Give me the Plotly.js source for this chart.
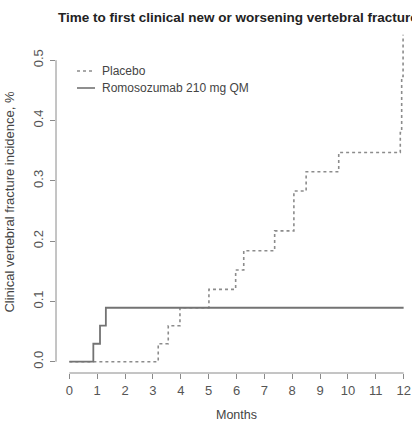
<!DOCTYPE html>
<html>
<head>
<meta charset="utf-8">
<script src="https://cdn.plot.ly/plotly-3.0.1.min.js"></script>
<style>
html, body { margin: 0; padding: 0; overflow: hidden; background: #fff; width: 412px; height: 422px; }
#chart { width: 430px; height: 422px; }
</style>
</head>
<body>
<div id="chart"></div>
<script>
// ---- data ----
const chartTitle = "Time to first clinical new or worsening vertebral fracture";
const xAxisTitle = "Months";
const yAxisTitle = "Clinical vertebral fracture incidence, %";
const seriesNames = ["Placebo", "Romosozumab 210 mg QM"];

const placeboMonths = [0, 3.19, 3.55, 3.97, 5.01, 5.97, 6.26, 7.37, 8.06, 8.50, 9.67, 11.88, 11.93, 11.98];
const placeboIncidence = [0, 0.0298, 0.0597, 0.0895, 0.120, 0.152, 0.184, 0.217, 0.283, 0.315, 0.347, 0.380, 0.473, 0.542];

const romoMonths = [0, 0.86, 1.10, 1.31, 12];
const romoIncidence = [0, 0.0298, 0.0597, 0.0895, 0.0895];

const xTicks = [0, 1, 2, 3, 4, 5, 6, 7, 8, 9, 10, 11, 12];
const yTicks = [0, 0.1, 0.2, 0.3, 0.4, 0.5];

// ---- chart ----
const FONT = "Liberation Sans, Arial, sans-serif";
const AX = "#8a8a8a";

const traces = [
  {
    x: placeboMonths, y: placeboIncidence, name: seriesNames[0],
    type: "scatter", mode: "lines",
    line: { shape: "hv", color: "#8c8c8c", width: 1.6, dash: "dot" },
    showlegend: false, hoverinfo: "skip"
  },
  {
    x: romoMonths, y: romoIncidence, name: seriesNames[1],
    type: "scatter", mode: "lines",
    line: { shape: "hv", color: "#737373", width: 1.8 },
    showlegend: false, hoverinfo: "skip"
  }
];

const W = 430, H = 422;
const layout = {
  width: W, height: H,
  margin: { l: 56, r: 13, t: 31, b: 49 },
  paper_bgcolor: "#fff", plot_bgcolor: "#fff",
  font: { family: FONT, color: "#555", size: 12 },
  title: {
    text: "<b>" + chartTitle + "</b>",
    font: { family: FONT, size: 13.5, color: "#222" },
    xref: "container", x: 58 / W, xanchor: "left",
    yref: "container", y: 1 - 17 / H, yanchor: "middle"
  },
  xaxis: {
    range: [-0.48, 12.48],
    tickmode: "array", tickvals: xTicks, ticktext: xTicks.map(String),
    showgrid: false, zeroline: false, showline: false,
    ticks: "outside", ticklen: 5, tickcolor: AX, tickwidth: 1,
    tickfont: { size: 13, color: "#555" },
    title: { text: xAxisTitle, font: { size: 12.5, color: "#444" }, standoff: 16 }
  },
  yaxis: {
    range: [-0.0187, 0.5484],
    tickmode: "array", tickvals: yTicks, ticktext: yTicks.map(v => v.toFixed(1)),
    tickangle: -90,
    showgrid: false, zeroline: false, showline: false,
    ticks: "outside", ticklen: 5, tickcolor: AX, tickwidth: 1,
    tickfont: { size: 13, color: "#555" },
    ticklabelstandoff: 2,
    title: { text: yAxisTitle, font: { size: 13, color: "#444" }, standoff: 13 }
  },
  shapes: [
    { type: "line", xref: "x", yref: "paper", x0: xTicks[0], x1: xTicks[xTicks.length - 1], y0: 0, y1: 0,
      line: { color: AX, width: 1 } },
    { type: "line", xref: "paper", yref: "y", x0: 0, x1: 0, y0: yTicks[0], y1: yTicks[yTicks.length - 1],
      line: { color: AX, width: 1 } },
    // legend samples
    { type: "line", xref: "paper", yref: "paper", x0: (77 - 56) / 361, x1: (95 - 56) / 361,
      y0: (373 - 71) / 342, y1: (373 - 71) / 342, line: { color: "#8c8c8c", width: 1.4, dash: "dot" } },
    { type: "line", xref: "paper", yref: "paper", x0: (77 - 56) / 361, x1: (95 - 56) / 361,
      y0: (373 - 88) / 342, y1: (373 - 88) / 342, line: { color: "#737373", width: 1.6 } }
  ],
  annotations: [
    { text: seriesNames[0], xref: "paper", yref: "paper", x: (100 - 56) / 361, y: (373 - 71) / 342,
      xanchor: "left", yanchor: "middle", showarrow: false, font: { size: 12, color: "#444" } },
    { text: seriesNames[1], xref: "paper", yref: "paper", x: (100 - 56) / 361, y: (373 - 88) / 342,
      xanchor: "left", yanchor: "middle", showarrow: false, font: { size: 12, color: "#444" } }
  ]
};

Plotly.newPlot("chart", traces, layout, { staticPlot: true, displayModeBar: false });
</script>
</body>
</html>
